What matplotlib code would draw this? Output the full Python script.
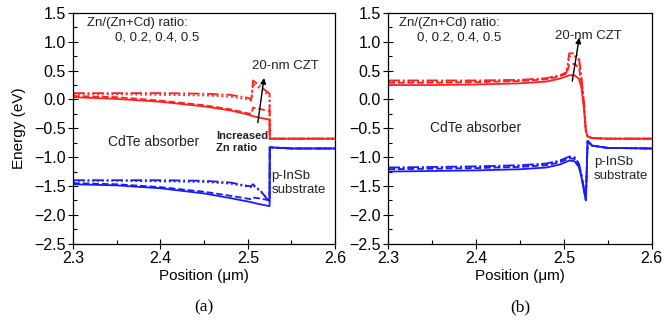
import matplotlib
matplotlib.use("Agg")
import matplotlib.pyplot as plt
from matplotlib.ticker import MultipleLocator

plt.rcParams['font.family'] = ['Liberation Sans', 'DejaVu Sans']

RED = '#ff2020'
BLUE = '#1a1aff'
STYLES = ['-', '--', ':', '-.']

# ---- panel (a): conduction band (red), one list per Zn ratio 0, 0.2, 0.4, 0.5
a_x = [2.30, 2.35, 2.40, 2.45, 2.48, 2.50, 2.504, 2.506, 2.515, 2.5249, 2.5251, 2.55, 2.60]
a_cb = [
    [0.04, 0.01, -0.04, -0.12, -0.19, -0.26, -0.28, -0.29, -0.32, -0.35, -0.68, -0.68, -0.68],
    [0.06, 0.04, -0.02, -0.10, -0.17, -0.24, -0.25, -0.14, -0.17, -0.20, -0.68, -0.68, -0.68],
    [0.09, 0.09, 0.08, 0.07, 0.05, 0.00, -0.02, 0.27, 0.18, 0.06, -0.68, -0.68, -0.68],
    [0.11, 0.11, 0.11, 0.10, 0.08, 0.03, 0.00, 0.33, 0.22, 0.10, -0.68, -0.68, -0.68],
]
# valence band (blue)
a_vb = [
    [-1.47, -1.49, -1.54, -1.63, -1.71, -1.77, -1.78, -1.79, -1.82, -1.85, -0.83, -0.85, -0.85],
    [-1.45, -1.47, -1.52, -1.60, -1.67, -1.72, -1.73, -1.70, -1.72, -1.75, -0.83, -0.85, -0.85],
    [-1.41, -1.41, -1.42, -1.43, -1.46, -1.51, -1.52, -1.49, -1.60, -1.76, -0.83, -0.85, -0.85],
    [-1.40, -1.40, -1.40, -1.41, -1.44, -1.50, -1.50, -1.47, -1.59, -1.78, -0.83, -0.85, -0.85],
]

# ---- panel (b)
b_x = [2.30, 2.35, 2.40, 2.45, 2.48, 2.495, 2.503, 2.506, 2.512, 2.517, 2.520, 2.523, 2.525, 2.527, 2.532, 2.55, 2.60]
b_cb = [
    [0.25, 0.25, 0.26, 0.28, 0.31, 0.36, 0.40, 0.42, 0.42, 0.36, 0.20, -0.20, -0.55, -0.64, -0.67, -0.68, -0.68],
    [0.29, 0.29, 0.30, 0.32, 0.35, 0.40, 0.45, 0.60, 0.62, 0.55, 0.30, -0.15, -0.55, -0.64, -0.67, -0.68, -0.68],
    [0.31, 0.31, 0.32, 0.33, 0.36, 0.41, 0.46, 0.75, 0.75, 0.68, 0.35, -0.10, -0.55, -0.64, -0.67, -0.68, -0.68],
    [0.33, 0.33, 0.33, 0.34, 0.37, 0.42, 0.47, 0.80, 0.80, 0.74, 0.38, -0.08, -0.55, -0.64, -0.67, -0.68, -0.68],
]
b_vb = [
    [-1.25, -1.24, -1.23, -1.21, -1.18, -1.13, -1.08, -1.06, -1.07, -1.17, -1.35, -1.60, -1.75, -0.72, -0.80, -0.84, -0.85],
    [-1.21, -1.20, -1.19, -1.17, -1.14, -1.09, -1.04, -1.02, -1.03, -1.14, -1.33, -1.58, -1.74, -0.72, -0.80, -0.84, -0.85],
    [-1.19, -1.18, -1.17, -1.15, -1.12, -1.07, -1.02, -1.00, -1.01, -1.12, -1.32, -1.57, -1.74, -0.72, -0.80, -0.84, -0.85],
    [-1.18, -1.17, -1.16, -1.14, -1.11, -1.06, -1.01, -0.99, -1.00, -1.11, -1.31, -1.56, -1.74, -0.72, -0.80, -0.84, -0.85],
]


def style_axes(ax):
    ax.set_xlim(2.3, 2.6)
    ax.set_ylim(-2.5, 1.5)
    ax.xaxis.set_major_locator(MultipleLocator(0.1))
    ax.xaxis.set_minor_locator(MultipleLocator(0.05))
    ax.yaxis.set_major_locator(MultipleLocator(0.5))
    ax.yaxis.set_minor_locator(MultipleLocator(0.25))
    ax.tick_params(which='major', direction='inout', length=7, width=0.8, labelsize=11.5, pad=2)
    ax.tick_params(which='minor', direction='in', length=3, width=0.8)
    ax.set_xticks([2.3, 2.4, 2.5, 2.6])
    ax.set_xticklabels(['2.3', '2.4', '2.5', '2.6'])
    for s in ax.spines.values():
        s.set_linewidth(0.9)
    ax.set_xlabel('Position (\u03bcm)', fontsize=11, labelpad=2)


fig = plt.figure(figsize=(6.65, 3.24), dpi=100)
ax_a = fig.add_axes([0.110, 0.248, 0.394, 0.712])
ax_b = fig.add_axes([0.584, 0.248, 0.396, 0.712])

for ys, ls in zip(a_cb, STYLES):
    ax_a.plot(a_x, ys, color=RED, ls=ls, lw=1.3)
for ys, ls in zip(a_vb, STYLES):
    ax_a.plot(a_x, ys, color=BLUE, ls=ls, lw=1.3)
for ys, ls in zip(b_cb, STYLES):
    ax_b.plot(b_x, ys, color=RED, ls=ls, lw=1.3)
for ys, ls in zip(b_vb, STYLES):
    ax_b.plot(b_x, ys, color=BLUE, ls=ls, lw=1.3)

style_axes(ax_a)
style_axes(ax_b)
ax_a.set_ylabel('Energy (eV)', fontsize=11, labelpad=6)

txt = dict(fontsize=9.5, color='#222222')
# panel (a) annotations
ax_a.text(2.316, 1.28, 'Zn/(Zn+Cd) ratio:', **txt)
ax_a.text(2.348, 1.03, '0, 0.2, 0.4, 0.5', **txt)
ax_a.text(2.505, 0.52, '20-nm CZT', **txt)
ax_a.text(2.34, -0.80, 'CdTe absorber', fontsize=10, color='#222222')
ax_a.text(2.464, -0.90, 'Increased\nZn ratio', fontsize=8, fontweight='bold',
          color='#222222', linespacing=1.35)
ax_a.text(2.527, -1.62, 'p-InSb\nsubstrate', fontsize=9.5, color='#222222',
          ha='left', linespacing=1.25)
ax_a.annotate('', xy=(2.519, 0.42), xytext=(2.511, -0.45),
              arrowprops=dict(arrowstyle='-|>', color='black', lw=1.0, mutation_scale=8))

# panel (b) annotations
ax_b.text(2.312, 1.28, 'Zn/(Zn+Cd) ratio:', **txt)
ax_b.text(2.333, 1.03, '0, 0.2, 0.4, 0.5', **txt)
ax_b.text(2.490, 1.04, '20-nm CZT', **txt)
ax_b.text(2.347, -0.57, 'CdTe absorber', fontsize=10, color='#222222')
ax_b.text(2.534, -1.38, 'p-InSb\nsubstrate', fontsize=9.5, color='#222222',
          ha='left', linespacing=1.25)
ax_b.annotate('', xy=(2.518, 1.12), xytext=(2.509, 0.27),
              arrowprops=dict(arrowstyle='-|>', color='black', lw=1.0, mutation_scale=8))

fig.text(0.307, 0.04, '(a)', ha='center', fontsize=12.5, family='Liberation Serif')
fig.text(0.782, 0.04, '(b)', ha='center', fontsize=12.5, family='Liberation Serif')

fig.savefig('out.png', dpi=100)
